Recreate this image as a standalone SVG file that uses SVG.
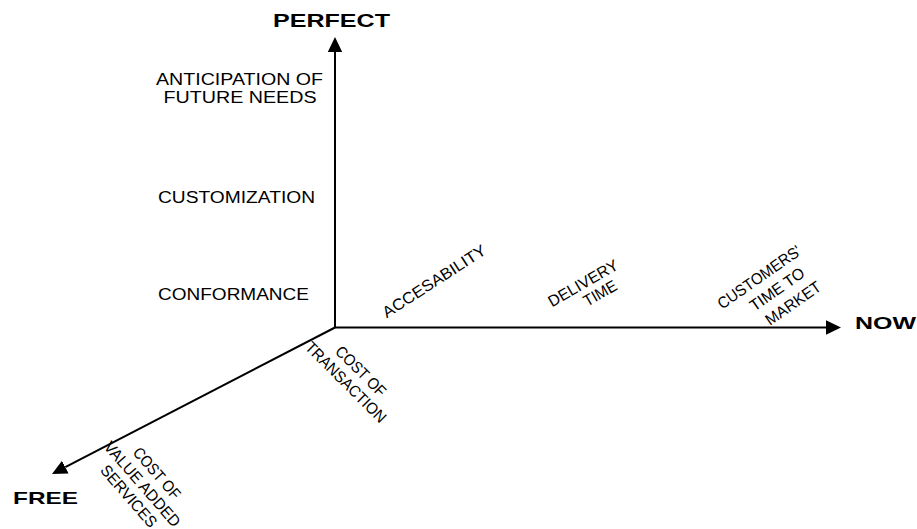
<svg xmlns="http://www.w3.org/2000/svg" width="917" height="529" viewBox="0 0 917 529">
<style>
.lbl{font-family:"Liberation Sans",Arial,sans-serif;font-size:16px;fill:#000}
.rot{font-family:"Liberation Sans",Arial,sans-serif;font-size:16px;fill:#000;text-anchor:middle}
.axis{font-family:"Liberation Sans",Arial,sans-serif;font-weight:bold;fill:#000}
.ax{stroke:#000;stroke-width:2;fill:none}
</style>
<defs>
<marker id="arr" viewBox="0 -8 16 16" refX="0" refY="0" markerWidth="16" markerHeight="16" markerUnits="userSpaceOnUse" orient="auto">
<path d="M0,-7.2 L15,0 L0,7.2 z" fill="#000"/>
</marker>
</defs>
<g id="connectors">
<line class="ax" x1="335" y1="327.5" x2="335" y2="52" marker-end="url(#arr)"/>
<line class="ax" x1="335" y1="327.5" x2="826" y2="327.5" marker-end="url(#arr)"/>
<line class="ax" x1="335" y1="327.5" x2="65.3" y2="467.1" marker-end="url(#arr)"/>
</g>
<g id="perfect"><text class="axis" x="273" y="26.5" font-size="18" textLength="117" lengthAdjust="spacingAndGlyphs">PERFECT</text></g>
<g id="now"><text class="axis" x="855" y="329" font-size="17" textLength="61" lengthAdjust="spacingAndGlyphs">NOW</text></g>
<g id="free"><text class="axis" x="13" y="504" font-size="17" textLength="65" lengthAdjust="spacingAndGlyphs">FREE</text></g>
<g id="anticipation">
<text class="lbl" x="156" y="85" textLength="167" lengthAdjust="spacingAndGlyphs">ANTICIPATION OF</text>
<text class="lbl" x="163.5" y="103" textLength="153" lengthAdjust="spacingAndGlyphs">FUTURE NEEDS</text>
</g>
<g id="customization"><text class="lbl" x="158" y="202.5" textLength="157" lengthAdjust="spacingAndGlyphs">CUSTOMIZATION</text></g>
<g id="conformance"><text class="lbl" x="158" y="300" textLength="151" lengthAdjust="spacingAndGlyphs">CONFORMANCE</text></g>
<g id="accesability"><text class="rot" transform="translate(434,281) rotate(-33)" y="5.7" textLength="120" lengthAdjust="spacingAndGlyphs">ACCESABILITY</text></g>
<g id="delivery">
<text class="rot" transform="translate(583,283) rotate(-30)" y="5.7" textLength="78" lengthAdjust="spacingAndGlyphs">DELIVERY</text>
<text class="rot" transform="translate(600,293) rotate(-30)" y="5.7" textLength="36" lengthAdjust="spacingAndGlyphs">TIME</text>
</g>
<g id="customers">
<text class="rot" transform="translate(759,277) rotate(-35)" y="5.7" textLength="98" lengthAdjust="spacingAndGlyphs">CUSTOMERS'</text>
<text class="rot" transform="translate(777,289) rotate(-35)" y="5.7" textLength="63" lengthAdjust="spacingAndGlyphs">TIME TO</text>
<text class="rot" transform="translate(793,303) rotate(-35)" y="5.7" textLength="64" lengthAdjust="spacingAndGlyphs">MARKET</text>
</g>
<g id="transaction">
<text class="rot" transform="translate(361,371) rotate(45)" y="5.7" textLength="64" lengthAdjust="spacingAndGlyphs">COST OF</text>
<text class="rot" transform="translate(346,382) rotate(45)" y="5.7" textLength="107" lengthAdjust="spacingAndGlyphs">TRANSACTION</text>
</g>
<g id="valueadded">
<text class="rot" transform="translate(157,473) rotate(49)" y="5.7" textLength="63" lengthAdjust="spacingAndGlyphs">COST OF</text>
<text class="rot" transform="translate(142.5,484) rotate(49)" y="5.7" textLength="107" lengthAdjust="spacingAndGlyphs">VALUE ADDED</text>
<text class="rot" transform="translate(129,496) rotate(49)" y="5.7" textLength="77" lengthAdjust="spacingAndGlyphs">SERVICES</text>
</g>
</svg>
